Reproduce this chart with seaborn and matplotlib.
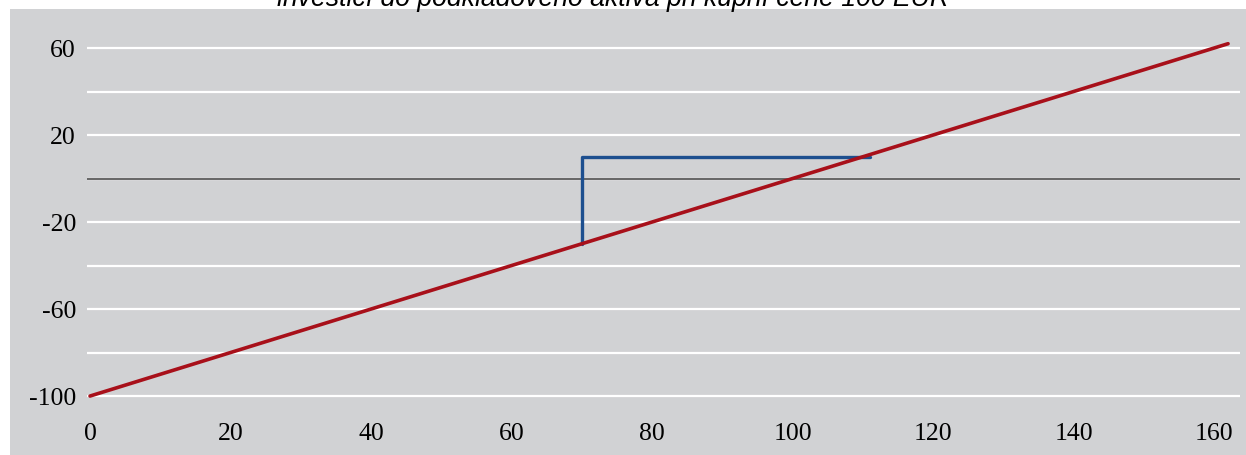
"""Payoff of a direct investment in the underlying bought at 100 EUR."""

import matplotlib
matplotlib.use("Agg")
import matplotlib.pyplot as plt
from matplotlib.patches import Rectangle
from matplotlib.ticker import MultipleLocator
import pandas as pd
import seaborn as sns

# underlying price vs. profit of the long position
spot_price = [0, 40, 80, 120, 162]
profit = [-100, -60, -20, 20, 62]

# blue bracket marking the 70 -> 110 move
bracket_x = [70, 70, 111]
bracket_y = [-30, 10, 10]

x_ticks = [0, 20, 40, 60, 80, 100, 120, 140, 160]
y_ticks = [60, 20, -20, -60, -100]

title = "investicí do podkladového aktiva při kupní ceně 100 EUR"

PANEL = "#d1d2d4"

sns.set_theme(style="white")
plt.rcParams["font.family"] = ["Liberation Serif", "DejaVu Serif"]
plt.rcParams["axes.unicode_minus"] = False

W, H = 1246, 455
fig = plt.figure(figsize=(W / 100, H / 100), dpi=100, facecolor="white")
fig.patches.append(Rectangle((10 / W, 0), 1, (H - 9) / H, transform=fig.transFigure,
                             facecolor=PANEL, edgecolor="none", zorder=-5))

ax = fig.add_axes([87.2 / W, (H - 400.4) / H, (1240 - 87.2) / W, 365.4 / H])
ax.set_facecolor(PANEL)

line_df = pd.DataFrame({"spot": spot_price, "profit": profit})
bracket_df = pd.DataFrame({"x": bracket_x, "y": bracket_y})

ax.axhline(0, color="#3c3c3c", lw=1.1, zorder=2)
sns.lineplot(data=bracket_df, x="x", y="y", sort=False, estimator=None,
             color="#1d4f8f", lw=2.4, ax=ax, zorder=3)
sns.lineplot(data=line_df, x="spot", y="profit", sort=False, estimator=None,
             color="#a8101a", lw=2.6, ax=ax, zorder=4)

ax.set_xlim(-0.4, 163.7)
ax.set_ylim(-102, 66)
ax.set_xticks(x_ticks)
ax.set_yticks(y_ticks)
ax.yaxis.set_minor_locator(MultipleLocator(20))
ax.grid(True, axis="y", which="both", color="white", lw=1.6, zorder=1)
ax.set_axisbelow(True)
for s in ax.spines.values():
    s.set_visible(False)
ax.tick_params(axis="both", which="both", length=0, labelsize=18.5, colors="black")
ax.tick_params(axis="y", pad=8)
ax.tick_params(axis="x", pad=16)
ax.set_xlabel("")
ax.set_ylabel("")

fig.text(0.492, 1 - 6.5 / H, title, ha="center", va="baseline", fontsize=19.2,
         style="italic", family=["Liberation Sans", "DejaVu Sans"], color="black",
         zorder=-4)

fig.savefig("out.png", dpi=100, facecolor="white")
